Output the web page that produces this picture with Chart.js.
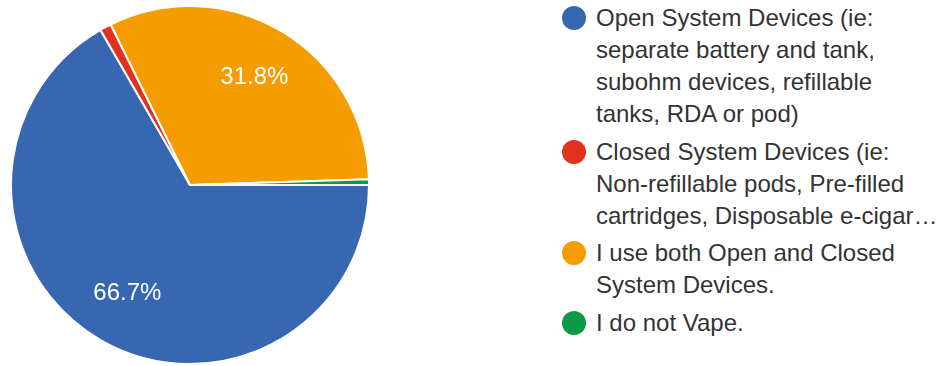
<!DOCTYPE html>
<html>
<head>
<meta charset="utf-8">
<script src="https://cdn.jsdelivr.net/npm/chart.js@4.4.1/dist/chart.umd.min.js"></script>
<style>
  html, body { margin: 0; padding: 0; background: #fff; }
  body { width: 943px; height: 366px; position: relative; overflow: hidden; font-family: "Liberation Sans", Arial, sans-serif; }
  #pieWrap { position: absolute; left: 10px; top: 5px; width: 360px; height: 360px; }
  #legend { position: absolute; left: 562px; top: 2px; margin: 0; padding: 0; list-style: none; }
  #legend li { position: relative; padding-left: 34px; margin-bottom: 5.5px; font-size: 24px; line-height: 32px; color: #333; white-space: nowrap; }
  #legend li span { position: absolute; left: 0; top: 4px; width: 24px; height: 24px; border-radius: 50%; }
</style>
</head>
<body>
<div id="pieWrap"><canvas id="pieChart"></canvas></div>
<ul id="legend"></ul>
<script>
// answers, one array of lines per option as shown in the legend
const answers = [
  ["Open System Devices (ie:", "separate battery and tank,", "subohm devices, refillable", "tanks, RDA or pod)"],
  ["Closed System Devices (ie:", "Non-refillable pods, Pre-filled", "cartridges, Disposable e-cigar\u2026"],
  ["I use both Open and Closed", "System Devices."],
  ["I do not Vape."]
];

const responses = [130, 2, 62, 1];

const sliceColors = ["#3767b1", "#e1311f", "#f49c00", "#0c9a47"];

const total = responses.reduce((a, b) => a + b, 0);

// percentage text inside the bigger slices
const sliceLabels = {
  id: "sliceLabels",
  afterDatasetsDraw(chart) {
    const ctx = chart.ctx;
    const meta = chart.getDatasetMeta(0);
    ctx.save();
    ctx.fillStyle = "#fff";
    ctx.font = "24px 'Liberation Sans', Arial, sans-serif";
    ctx.textAlign = "center";
    ctx.textBaseline = "middle";
    meta.data.forEach((arc, i) => {
      const share = responses[i] / total;
      if (share < 0.05) return;
      const mid = (arc.startAngle + arc.endAngle) / 2;
      const r = arc.outerRadius * 0.7;
      ctx.fillText((share * 100).toFixed(1) + "%", arc.x + Math.cos(mid) * r, arc.y + Math.sin(mid) * r);
    });
    ctx.restore();
  }
};

const pieChart = new Chart(document.getElementById("pieChart"), {
  type: "pie",
  data: {
    labels: answers,
    datasets: [{
      data: responses,
      backgroundColor: sliceColors,
      borderColor: "#fff",
      borderWidth: 2,
    }],
  },
  options: {
    responsive: true,
    maintainAspectRatio: false,
    animation: false,
    rotation: 90,
    layout: { padding: 0 },
    plugins: {
      legend: { display: false },
      tooltip: { enabled: false },
    },
  },
  plugins: [sliceLabels],
});

// html legend built from the chart data
const legendEl = document.getElementById("legend");
answers.forEach((lines, i) => {
  const li = document.createElement("li");
  const dot = document.createElement("span");
  dot.style.background = sliceColors[i];
  li.appendChild(dot);
  lines.forEach((line, j) => {
    if (j > 0) li.appendChild(document.createElement("br"));
    li.appendChild(document.createTextNode(line));
  });
  legendEl.appendChild(li);
});
</script>
</body>
</html>
